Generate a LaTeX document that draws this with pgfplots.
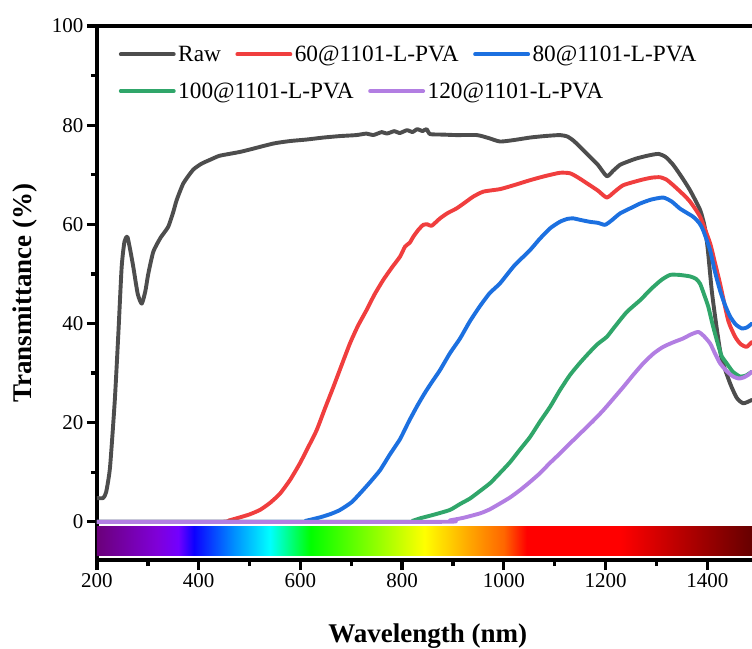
\documentclass[border=0pt]{standalone}
\usepackage{pgfplots}
\pgfplotsset{compat=1.18}
\usepackage{fontspec}
\setmainfont{Liberation Serif}
\definecolor{rawc}{RGB}{77,77,77}
\definecolor{c60}{RGB}{240,62,62}
\definecolor{c80}{RGB}{28,112,224}
\definecolor{c100}{RGB}{48,166,106}
\definecolor{c120}{RGB}{178,126,226}
\definecolor{s0}{rgb}{0.42,0,0.48}
\definecolor{s1}{rgb}{0.50,0,0.85}
\definecolor{s2}{rgb}{0.45,0,1}
\definecolor{s3}{rgb}{0.05,0,1}
\definecolor{s4}{rgb}{0,0.55,1}
\definecolor{s5}{rgb}{0,1,1}
\definecolor{s6}{rgb}{0,1,0}
\definecolor{s7}{rgb}{0.6,1,0}
\definecolor{s8}{rgb}{1,1,0}
\definecolor{s9}{rgb}{1,0.65,0}
\definecolor{s10}{rgb}{1,0.4,0}
\definecolor{s11}{rgb}{1,0,0}
\definecolor{s12}{rgb}{1,0,0}
\definecolor{s13}{rgb}{0.62,0,0}
\definecolor{s14}{rgb}{0.4,0,0}
\pgfdeclarehorizontalshading{spectrum}{100bp}{color(0bp)=(s0); color(25bp)=(s0); color(29.58bp)=(s1); color(31.2bp)=(s2); color(32.4bp)=(s3); color(35.4bp)=(s4); color(38.2bp)=(s5); color(41.3bp)=(s6); color(46.6bp)=(s7); color(50bp)=(s8); color(53.45bp)=(s9); color(56.06bp)=(s10); color(57.8bp)=(s11); color(64.95bp)=(s12); color(71.27bp)=(s13); color(75bp)=(s14); color(100bp)=(s14)}
\pgfplotsset{
  common/.style={width=655pt, height=534pt, scale only axis},
  specline/.style={line width=3.9pt, line join=round, line cap=round, mark=none, smooth, tension=0.35},
}
\begin{document}
\begin{tikzpicture}
\begin{axis}[common,
  xmin=200, xmax=1488, ymin=-7.7, ymax=100,
  axis y line*=left,
  xtick={200,400,...,1400}, minor xtick={300,500,...,1300},
  ytick={0,20,...,100}, minor ytick={10,30,...,90},
  xtick pos=left, ytick pos=left,
  tick align=outside,
  major tick length=10pt, minor tick length=6pt,
  every major tick/.append style={black, line width=3.3pt},
  every minor tick/.append style={black, line width=3.3pt},
  axis line style={line width=3.6pt},
  /pgf/number format/assume math mode=true,
  /pgf/number format/1000 sep={},
  tick label style={font=\fontsize{21}{24}\selectfont},
  xlabel={\textbf{Wavelength (nm)}},
  ylabel={\textbf{Transmittance (\%)}},
  label style={font=\fontsize{27}{30}\selectfont},
  xlabel style={at={(axis description cs:0.505,-0.154)}, anchor=base},
  ylabel style={at={(axis description cs:-0.11,0.5)}, anchor=center},
  legend columns=3,
  legend image code/.code={\draw[#1, smooth=false] (0pt,0pt) -- (53pt,0pt);},
  legend style={at={(axis description cs:0.033,0.947)}, anchor=west, draw=none, fill=none,
    inner sep=0pt, font=\fontsize{23.3}{26}\selectfont, nodes={inner sep=2.5pt},
    /tikz/every even column/.append style={column sep=12pt}},
]
\fill[shading=spectrum] (axis cs:200,-0.95) rectangle (axis cs:1488,-6.85);
\addplot[specline, rawc] coordinates {
(200,4.8) (212,4.8) (218,6) (225.6,11) (235,24.5) (242,38) (248.5,51.4) (254,56.5) (259.6,57.5) (265,55) (271.4,51.4) (280,46) (288,44.0) (295,46.5) (301,50.1) (310.8,54.5) (325,57.3) (340,59.5) (350,62.5) (356.7,64.9) (370,68.3) (389,71) (405,72.2) (422,73) (440,73.8) (460,74.2) (481,74.6) (501,75.1) (547,76.3) (580,76.8) (612,77.1) (645,77.5) (678,77.8) (710,78.0) (730,78.3) (743,78.0) (760,78.6) (770,78.3) (785,78.8) (795,78.4) (810,79.0) (820,78.6) (830,79.2) (840,78.8) (848,79.2) (855,78.2) (880,78.1) (907,78.0) (947,78.0) (970,77.4) (992.5,76.7) (1020,77.0) (1051.5,77.5) (1080,77.8) (1110.5,78.0) (1125,77.7) (1136.7,76.9) (1150,75.6) (1169.5,73.6) (1185,72.0) (1202.4,69.7) (1215,70.8) (1228.5,72.0) (1245,72.7) (1261.4,73.3) (1285,73.9) (1303.9,74.2) (1318,73.6) (1333,72.0) (1350,69.5) (1366,66.9) (1386,62.9) (1395,59.5) (1401,55) (1409,46.5) (1418,39.5) (1428,33) (1445,27.9) (1458,25.0) (1471,23.9) (1488,24.6)
};
\addlegendentry{Raw}
\addplot[specline, c60] coordinates {
(200,0) (440,0) (460,0.3) (481,0.9) (500,1.5) (520.5,2.4) (540,3.8) (560,5.7) (580,8.5) (599,11.8) (615,15) (632,18.5) (648,22.8) (664.8,27.2) (681,31.6) (697.5,36) (713,39.5) (730,42.7) (746,45.9) (763,48.8) (780,51.3) (796,53.5) (805.7,55.5) (815,56.3) (822,57.5) (832,58.9) (841.7,59.9) (850,60) (858,59.7) (874.5,61.2) (890,62.3) (907,63.2) (925,64.5) (940,65.6) (960,66.6) (992.5,67.1) (1020,67.9) (1051.5,68.9) (1080,69.7) (1110.5,70.4) (1130,70.3) (1145,69.5) (1163,68.3) (1185,66.8) (1202.4,65.4) (1218,66.6) (1235,67.9) (1268,68.9) (1290,69.4) (1307,69.5) (1320,69) (1333,67.9) (1350,66.3) (1366,64.6) (1386,61.5) (1405.5,56.2) (1415,52.3) (1425,48.1) (1441.5,40.5) (1455,37.3) (1466,35.8) (1477.6,35.3) (1488,36.3)
};
\addlegendentry{60@1101-L-PVA}
\addplot[specline, c80] coordinates {
(200,0) (590,0) (610,0.2) (638.5,0.9) (660,1.6) (678,2.4) (700,3.9) (717,5.7) (737,8) (756.5,10.4) (776,13.6) (796,16.7) (812,20) (828.7,23.2) (840,25.2) (848.4,26.6) (860,28.4) (874.5,30.6) (894,34) (914,37) (933,40.4) (953,43.5) (972,46.1) (992.5,48.1) (1020,51.6) (1051.5,54.8) (1070,57) (1091,59.2) (1110,60.5) (1125,61.1) (1136.7,61.2) (1150,60.9) (1169.5,60.5) (1185,60.3) (1199,59.9) (1212,60.8) (1228.5,62.2) (1250,63.3) (1268,64.2) (1290,65.0) (1313.6,65.4) (1330,64.6) (1346,63.2) (1360,62.3) (1372.6,61.5) (1384,60.3) (1392,58.8) (1405.5,54.8) (1415,50.5) (1425,46.7) (1435,43.7) (1445,41.4) (1456,39.8) (1468,39.0) (1478,39.2) (1488,40.0)
};
\addlegendentry{80@1101-L-PVA}
\addplot[specline, c100, forget plot] coordinates {
(200,0) (800,0) (820,0.2) (835,0.7) (861,1.4) (894,2.4) (914,3.6) (933.5,4.7) (953,6.2) (973,7.8) (992,9.8) (1012,12) (1032,14.6) (1051.5,17.1) (1071,20.2) (1091,23.2) (1110,26.5) (1130,29.6) (1150,32.1) (1169.5,34.3) (1185,35.9) (1202.4,37.3) (1215.5,39) (1241.6,42.3) (1268,44.7) (1290,47) (1310,48.8) (1327,49.8) (1345,49.8) (1366,49.5) (1378,49.0) (1386,48) (1395,45.5) (1402,43.4) (1410,40) (1418.6,36.7) (1428,33.5) (1438,32.0) (1450,30.3) (1464.5,29.3) (1476,29.5) (1488,30.3)
};
\addplot[specline, c120, forget plot] coordinates {
(200,0) (870,0) (894,0.3) (920,0.8) (953,1.7) (972,2.5) (992.5,3.7) (1012,4.9) (1032,6.4) (1051,8) (1071,9.8) (1090,11.8) (1110.5,13.8) (1130,15.8) (1150,17.8) (1175,20.3) (1195.6,22.5) (1215,24.8) (1235,27.2) (1255,29.7) (1274.5,32) (1295,34) (1313.6,35.3) (1333,36.2) (1353,37) (1368,37.8) (1382.5,38.3) (1393,37.5) (1405.5,36) (1415,34) (1425,32) (1438,30.4) (1451,29.3) (1462,28.9) (1471,29.1) (1480,29.6) (1488,30.3)
};
\end{axis}
\begin{axis}[common, hide axis, xmin=0, xmax=1, ymin=0, ymax=1,
  legend columns=2,
  legend image code/.code={\draw[#1, smooth=false] (0pt,0pt) -- (53pt,0pt);},
  legend style={at={(axis description cs:0.033,0.878)}, anchor=west, draw=none, fill=none,
    inner sep=0pt, font=\fontsize{23.3}{26}\selectfont, nodes={inner sep=2.5pt},
    /tikz/every even column/.append style={column sep=12pt}},
]
\addlegendimage{specline, c100}
\addlegendentry{100@1101-L-PVA}
\addlegendimage{specline, c120}
\addlegendentry{120@1101-L-PVA}
\end{axis}
\pgfresetboundingbox
\path ([shift={(-97pt,-88pt)}]current axis.south west) rectangle ([shift={(0pt,26pt)}]current axis.north east);
\end{tikzpicture}
\end{document}
